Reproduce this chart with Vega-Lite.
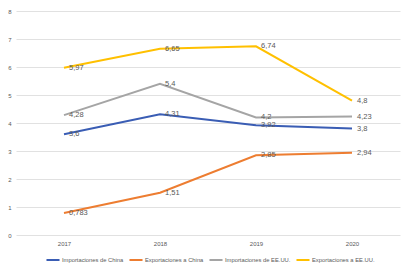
{
  "$schema": "https://vega.github.io/schema/vega-lite/v6.json",
  "width": 384,
  "height": 224,
  "autosize": {"type": "none"},
  "padding": {"left": 16, "top": 11, "right": 13, "bottom": 33},
  "background": "white",
  "config": {
    "view": {"stroke": null},
    "font": "Liberation Sans",
    "axis": {"labelColor": "#595959", "labelFontSize": 6, "domain": false, "ticks": false, "gridColor": "#D9D9D9", "gridWidth": 0.8, "title": null}
  },
  "data": {
    "values": [
      {"year": "2017", "series": "Importaciones de China", "value": 3.6, "label": "3,6"},
      {"year": "2018", "series": "Importaciones de China", "value": 4.31, "label": "4,31"},
      {"year": "2019", "series": "Importaciones de China", "value": 3.92, "label": "3,92"},
      {"year": "2020", "series": "Importaciones de China", "value": 3.8, "label": "3,8"},
      {"year": "2017", "series": "Exportaciones a China", "value": 0.783, "label": "0,783"},
      {"year": "2018", "series": "Exportaciones a China", "value": 1.51, "label": "1,51"},
      {"year": "2019", "series": "Exportaciones a China", "value": 2.85, "label": "2,85"},
      {"year": "2020", "series": "Exportaciones a China", "value": 2.94, "label": "2,94"},
      {"year": "2017", "series": "Importaciones de EE.UU.", "value": 4.28, "label": "4,28"},
      {"year": "2018", "series": "Importaciones de EE.UU.", "value": 5.4, "label": "5,4"},
      {"year": "2019", "series": "Importaciones de EE.UU.", "value": 4.2, "label": "4,2"},
      {"year": "2020", "series": "Importaciones de EE.UU.", "value": 4.23, "label": "4,23"},
      {"year": "2017", "series": "Exportaciones a EE.UU.", "value": 5.97, "label": "5,97"},
      {"year": "2018", "series": "Exportaciones a EE.UU.", "value": 6.65, "label": "6,65"},
      {"year": "2019", "series": "Exportaciones a EE.UU.", "value": 6.74, "label": "6,74"},
      {"year": "2020", "series": "Exportaciones a EE.UU.", "value": 4.8, "label": "4,8"}
    ]
  },
  "encoding": {
    "x": {"field": "year", "type": "ordinal", "axis": {"labelAngle": 0, "grid": false, "labelPadding": 5}},
    "y": {"field": "value", "type": "quantitative", "scale": {"domain": [0, 8]}, "axis": {"tickCount": 8, "labelPadding": 5}}
  },
  "layer": [
    {
      "mark": {"type": "line", "strokeWidth": 2},
      "encoding": {
        "color": {
          "field": "series",
          "type": "nominal",
          "sort": ["Importaciones de China", "Exportaciones a China", "Importaciones de EE.UU.", "Exportaciones a EE.UU."],
          "scale": {
            "domain": ["Importaciones de China", "Exportaciones a China", "Importaciones de EE.UU.", "Exportaciones a EE.UU."],
            "range": ["#3A5DB4", "#ED7D31", "#A5A5A5", "#FFC000"]
          },
          "legend": {
            "title": null,
            "orient": "none",
            "direction": "horizontal",
            "legendX": 29,
            "legendY": 241,
            "symbolType": "stroke",
            "symbolSize": 170,
            "symbolStrokeWidth": 2,
            "labelFontSize": 5.8,
            "labelColor": "#595959",
            "labelOffset": 1,
            "columnPadding": 1
          }
        }
      }
    },
    {
      "mark": {"type": "text", "align": "left", "baseline": "middle", "dx": 5, "fontSize": 7.5, "color": "#595959"},
      "encoding": {"text": {"field": "label"}, "detail": {"field": "series"}}
    }
  ]
}
